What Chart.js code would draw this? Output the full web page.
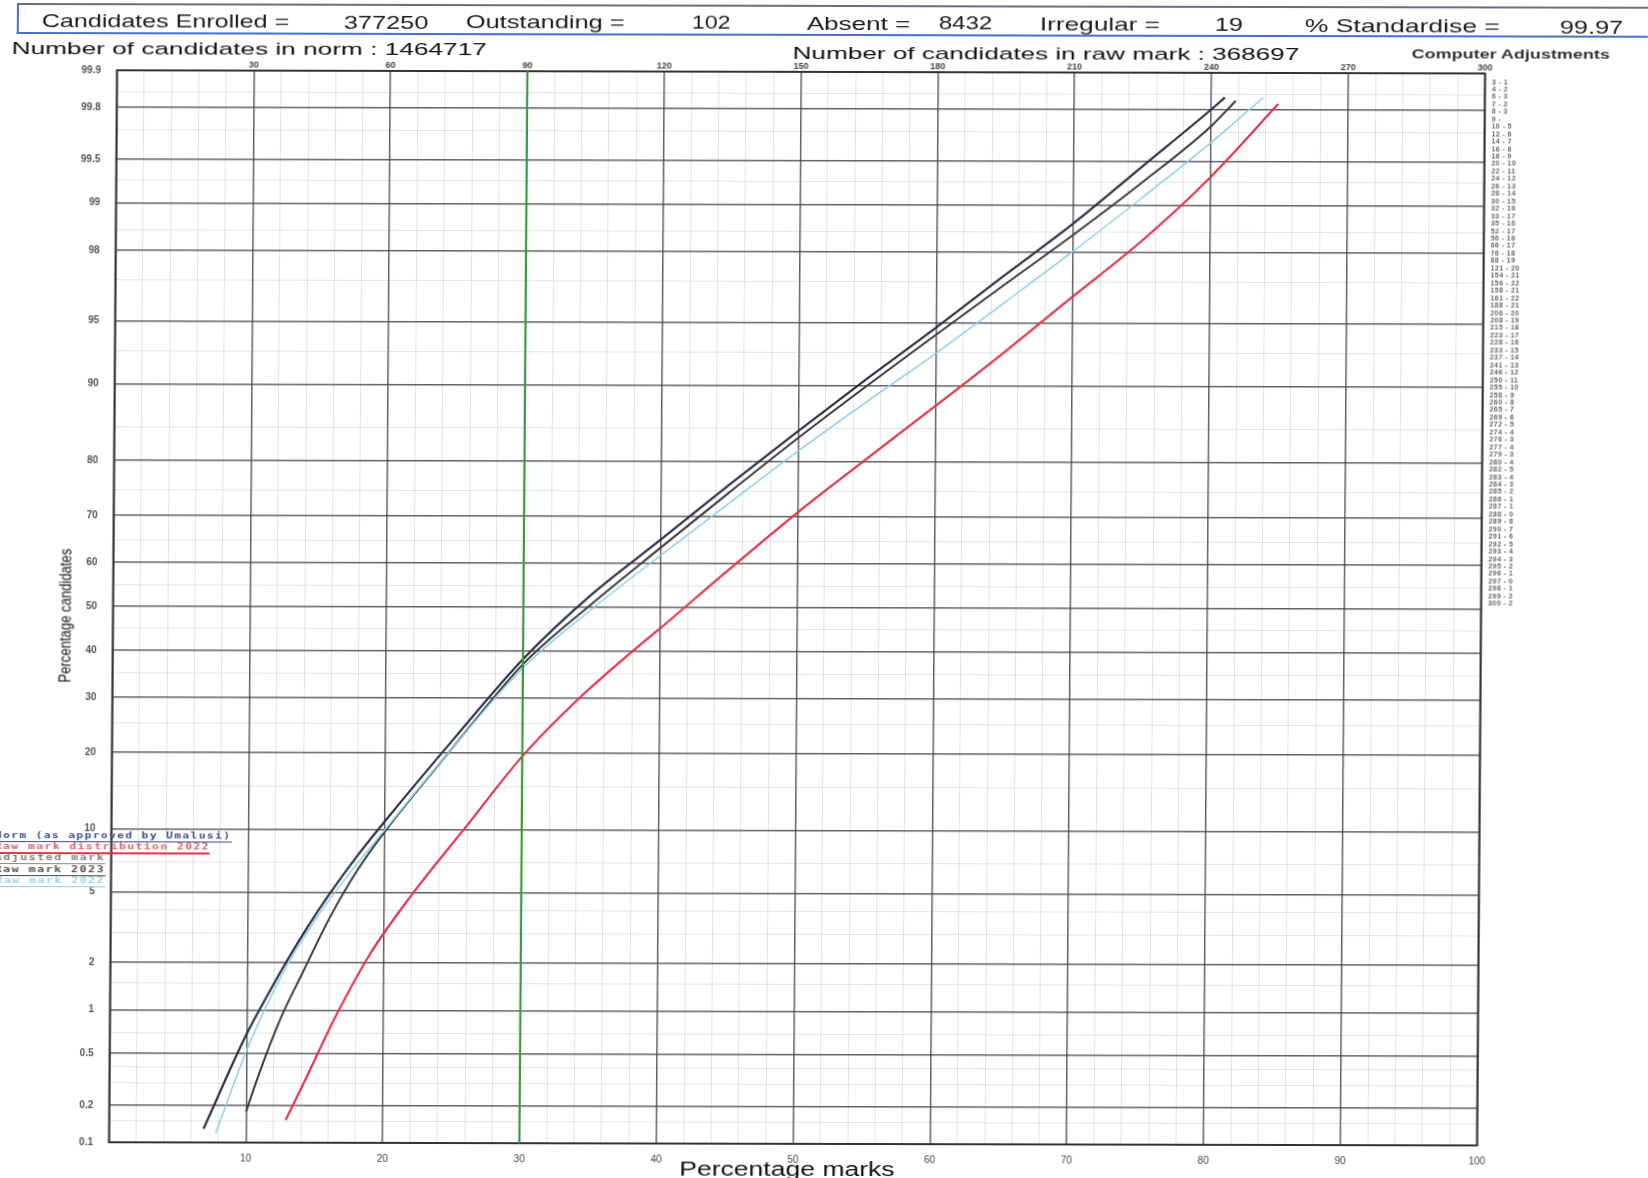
<!DOCTYPE html>
<html>
<head>
<meta charset="utf-8">
<script src="https://cdn.jsdelivr.net/npm/chart.js@4.4.1/dist/chart.umd.min.js"></script>
<style>
html, body { margin: 0; padding: 0; background: #fff; }
#page { position: relative; width: 1648px; height: 1178px; overflow: hidden; background: #fff;
  transform-origin: 0 0; transform: matrix(1, 0.00234, -0.00746, 1, 0, 0); }
#chart { position: absolute; left: 0; top: 0; }
.t { position: absolute; white-space: nowrap; line-height: 1; color: #1c1c1c;
  font-family: "Liberation Sans", Arial, sans-serif; transform-origin: 0 50%; }
#hdr { position: absolute; left: 17px; top: 3px; width: 1660px; height: 27px;
  border-top: 2px solid #6b7080; border-left: 2px solid #4a6fd0; border-bottom: 2px solid #4a6fd0; }
#adj { position: absolute; font: bold 7px "Liberation Sans", Arial, sans-serif; color: #666; letter-spacing: 0.4px; }
</style>
</head>
<body>
<div id="page">
  <div id="hdr"></div>
  <canvas id="chart" width="1648" height="1178"></canvas>
</div>
<script>
// x = percentage marks, y = percentage candidates (cumulative)
const NORM_MARKS = [6.9, 10, 11.5, 13, 14.5, 16, 18, 20, 25, 30, 35, 40, 45, 50, 55, 60, 65, 70, 75, 80, 81];
const NORM_PCT   = [0.13, 0.685, 1.25, 2.12, 3.33, 4.90, 7.57, 10.84, 22.4, 38.2, 53.0, 65.2, 76.1, 84.6, 90.7, 94.7, 97.26, 98.68, 99.46, 99.80, 99.84];

const RAW23_MARKS = [10, 11, 12.5, 14, 16, 18, 20, 24.6, 30, 35, 40, 45, 50, 55, 60, 65, 70, 75, 80, 81.8];
const RAW23_PCT   = [0.18, 0.37, 0.89, 1.70, 3.63, 6.43, 9.77, 20.0, 37.1, 50.8, 63.5, 74.7, 83.65, 90.0, 94.24, 96.9, 98.44, 99.30, 99.73, 99.83];

const BLUE_MARKS = [7.8, 10, 12.5, 15, 17.5, 20, 24.4, 30, 35, 40, 45, 50, 55, 60, 65, 70, 75, 80, 83.8];
const BLUE_PCT   = [0.12, 0.52, 1.66, 3.59, 6.30, 9.94, 19.5, 36.3, 49.6, 61.8, 72.7, 81.7, 88.3, 92.9, 96.1, 98.03, 99.11, 99.64, 99.84];

const RED_MARKS = [12.9, 14.5, 16.5, 19, 22, 26, 30, 34, 38, 40, 45, 50, 55, 60, 65, 70, 75, 80, 84.9];
const RED_PCT   = [0.154, 0.35, 0.91, 2.28, 4.85, 10.4, 19.5, 29.7, 40.05, 45.2, 58.7, 70.9, 80.5, 87.8, 93.0, 96.4, 98.3, 99.36, 99.82];

const CUT_MARK = 30;

const Y_TICKS = [0.1, 0.2, 0.5, 1, 2, 5, 10, 20, 30, 40, 50, 60, 70, 80, 90, 95, 98, 99, 99.5, 99.8, 99.9];
const Y_MINOR = [0.15, 0.3, 0.4, 0.7, 1.5, 3, 4, 7, 15, 25, 35, 45, 55, 65, 75, 85, 93, 97, 98.5, 99.3, 99.7, 99.85];
const X_TICKS = [10, 20, 30, 40, 50, 60, 70, 80, 90, 100];
const RAW_TICKS = [30, 60, 90, 120, 150, 180, 210, 240, 270, 300];

const HEADER = [
  ["Candidates Enrolled =", 42, 290, 21], ["377250", 344, 428, 22],
  ["Outstanding =", 466, 625, 22], ["102", 692, 731, 22.5],
  ["Absent =", 807, 911, 23], ["8432", 939, 992, 23],
  ["Irregular =", 1040, 1160, 24], ["19", 1215, 1243, 24.5],
  ["% Standardise =", 1305, 1500, 25.5], ["99.97", 1560, 1624, 27]
];

const LEGEND = [
  ["Norm (as approved by Umalusi)", "#3b4a9a", "#3b4a9a"],
  ["Raw mark distribution 2022", "#e06070", "#e0304a"],
  ["Adjusted mark", "#808080", "#888"],
  ["Raw mark 2023", "#505050", "#444"],
  ["Raw mark 2022", "#9fd3e6", "#8fcfe6"]
];

const ADJUSTMENTS = ["3 - 1","4 - 2","6 - 3","7 - 2","8 - 3","9 -","10 - 5","12 - 6","14 - 7","16 - 8","18 - 9",
  "20 - 10","22 - 11","24 - 12","26 - 13","28 - 14","30 - 15","32 - 16","33 - 17","35 - 16","52 - 17","56 - 16",
  "66 - 17","76 - 18","88 - 19","121 - 20","154 - 21","156 - 22","158 - 21","161 - 22","188 - 21","206 - 20",
  "208 - 19","215 - 18","223 - 17","228 - 16","233 - 15","237 - 14","241 - 13","246 - 12","250 - 11","255 - 10",
  "258 - 9","260 - 8","265 - 7","269 - 6","272 - 5","274 - 4","276 - 3","277 - 4","279 - 3","280 - 4","282 - 5",
  "283 - 4","284 - 3","285 - 2","286 - 1","287 - 1","288 - 0","289 - 8","290 - 7","291 - 6","292 - 5","293 - 4",
  "294 - 3","295 - 2","296 - 1","297 - 0","298 - 1","299 - 2","300 - 2"];

// normal probability paper
function probit(p) {
  p = Math.min(Math.max(p, 1e-7), 1 - 1e-7);
  const a = [-39.69683028665376, 220.9460984245205, -275.9285104469687, 138.3577518672690, -30.66479806614716, 2.506628277459239];
  const b = [-54.47609879822406, 161.5858368580409, -155.6989798598866, 66.80131188771972, -13.28068155288572];
  const c = [-0.007784894002430293, -0.3223964580411365, -2.400758277161838, -2.549732539343734, 4.374664141464968, 2.938163982698783];
  const d = [0.007784695709041462, 0.3224671290700398, 2.445134137142996, 3.754408661907416];
  const lo = 0.02425;
  if (p < lo || p > 1 - lo) {
    const q = Math.sqrt(-2 * Math.log(p < lo ? p : 1 - p));
    const z = (((((c[0]*q+c[1])*q+c[2])*q+c[3])*q+c[4])*q+c[5]) / ((((d[0]*q+d[1])*q+d[2])*q+d[3])*q+1);
    return p < lo ? z : -z;
  }
  const q = p - 0.5, r = q * q;
  return (((((a[0]*r+a[1])*r+a[2])*r+a[3])*r+a[4])*r+a[5])*q / (((((b[0]*r+b[1])*r+b[2])*r+b[3])*r+b[4])*r+1);
}
function normCdf(z) {
  const t = 1 / (1 + 0.3275911 * Math.abs(z) / Math.SQRT2);
  const y = 1 - (((((1.061405429*t - 1.453152027)*t) + 1.421413741)*t - 0.284496736)*t + 0.254829592)*t * Math.exp(-z*z/2);
  return z >= 0 ? (1 + y) / 2 : (1 - y) / 2;
}

class ProbitScale extends Chart.LinearScale {
  static id = 'probit';
  determineDataLimits() { this.min = this.options.min; this.max = this.options.max; }
  buildTicks() {
    const t = Y_TICKS.map(v => ({ value: v, major: true })).concat(Y_MINOR.map(v => ({ value: v, major: false })));
    return t.sort((p, q) => p.value - q.value);
  }
  configure() {
    super.configure();
    this._zMin = probit(this.min / 100);
    this._zMax = probit(this.max / 100);
  }
  getPixelForValue(v) { return this.getPixelForDecimal((probit(v / 100) - this._zMin) / (this._zMax - this._zMin)); }
  getValueForPixel(px) { return 100 * normCdf(this._zMin + this.getDecimalForPixel(px) * (this._zMax - this._zMin)); }
}
Chart.register(ProbitScale);

const MAJOR = "rgba(70,70,70,0.85)", MINOR = "rgba(130,130,130,0.28)";
const pts = (xs, ys) => xs.map((x, i) => ({ x, y: ys[i] }));
const line = (data, color, w) => ({ data, borderColor: color, borderWidth: w, pointRadius: 0,
  cubicInterpolationMode: 'monotone', fill: false, xAxisID: 'x', yAxisID: 'y' });

const frame = {
  id: 'frame',
  beforeDatasetsDraw(c) {
    const a = c.chartArea, ctx = c.ctx;
    ctx.save(); ctx.strokeStyle = "#333"; ctx.lineWidth = 2;
    ctx.strokeRect(a.left, a.top, a.right - a.left, a.bottom - a.top);
    ctx.restore();
  }
};

new Chart(document.getElementById("chart"), {
  type: 'line',
  data: {
    datasets: [
      line([{ x: CUT_MARK, y: 0.1 }, { x: CUT_MARK, y: 99.9 }], "#3a9a40", 2.2),
      line(pts(RED_MARKS, RED_PCT), "#e3334a", 2.2),
      line(pts(BLUE_MARKS, BLUE_PCT), "#8ccfe6", 1.5),
      line(pts(RAW23_MARKS, RAW23_PCT), "#3a3a3a", 2),
      line(pts(NORM_MARKS, NORM_PCT), "#2a3148", 2.2)
    ]
  },
  options: {
    responsive: false, animation: false,
    layout: { padding: { left: 77.5, top: 54, right: 162.5, bottom: 6 } },
    plugins: { legend: { display: false }, tooltip: { enabled: false } },
    scales: {
      x: {
        type: 'linear', min: 0, max: 100, position: 'bottom',
        afterFit: s => { s.height = 30; },
        afterBuildTicks: s => { s.ticks = Array.from({ length: 51 }, (_, i) => ({ value: i * 2 })); },
        ticks: { autoSkip: false, maxRotation: 0, padding: 10, color: "#444",
          font: { family: "Liberation Sans", size: 10 },
          callback: v => X_TICKS.includes(v) ? String(v) : '' },
        grid: { drawTicks: false, color: ctx => ctx.tick && ctx.tick.value % 10 === 0 ? MAJOR : MINOR,
          lineWidth: ctx => ctx.tick && ctx.tick.value % 10 === 0 ? 1.5 : 0.8 },
        border: { display: false }
      },
      x2: {
        type: 'linear', min: 0, max: 300, position: 'top',
        afterFit: s => { s.height = 16; },
        afterBuildTicks: s => { s.ticks = RAW_TICKS.map(v => ({ value: v })); },
        ticks: { autoSkip: false, maxRotation: 0, padding: 0, color: "#444",
          font: { family: "Liberation Sans", size: 9, weight: 'bold' } },
        grid: { drawOnChartArea: false, drawTicks: false },
        border: { display: false }
      },
      y: {
        type: 'probit', min: 0.1, max: 99.9, position: 'left',
        afterFit: s => { s.width = 40; },
        ticks: { autoSkip: false, padding: 16, color: "#555",
          font: { family: "Liberation Sans", size: 10, weight: 'bold' },
          callback: v => Y_TICKS.includes(v) ? String(v) : '' },
        grid: { drawTicks: false, color: ctx => ctx.tick && ctx.tick.major ? MAJOR : MINOR,
          lineWidth: ctx => ctx.tick && ctx.tick.major ? 1.5 : 0.8 },
        border: { display: false }
      }
    }
  },
  plugins: [frame]
});

// page texts, positions given in the scanned picture's coordinates
const page = document.getElementById("page");
const inv = (x, y) => [x + 0.00746 * y, y - 0.00234 * x];
function put(txt, x1, x2, yc, size, css) {
  const d = document.createElement("div");
  d.className = "t";
  d.textContent = txt;
  d.style.fontSize = size + "px";
  Object.assign(d.style, css || {});
  page.appendChild(d);
  const [px, py] = inv(x1, yc);
  d.style.left = px + "px";
  d.style.top = (py - d.offsetHeight / 2) + "px";
  d.style.transform = "scaleX(" + ((x2 - x1) / d.offsetWidth) + ")";
  return d;
}

HEADER.forEach(h => put(h[0], h[1], h[2], h[3], 19));
put("Number of candidates in norm : 1464717", 12, 487, 49, 17, { color: "#111" });
put("Number of candidates in raw mark : 368697", 793, 1300, 53, 17, { color: "#111" });
put("Computer Adjustments", 1412, 1610, 54, 12, { fontWeight: "bold", color: "#333" });
put("Percentage marks", 679, 894, 1169, 20, { color: "#111" });

const yt = document.createElement("div");
yt.className = "t";
yt.textContent = "Percentage candidates";
yt.style.fontSize = "17px";
yt.style.color = "#111";
page.appendChild(yt);
{
  const [cx, cy] = inv(65, 616);
  yt.style.left = (cx - yt.offsetWidth / 2) + "px";
  yt.style.top = (cy - yt.offsetHeight / 2) + "px";
  yt.style.transformOrigin = "50% 50%";
  yt.style.transform = "rotate(-90deg) scaleX(" + (134 / yt.offsetWidth) + ")";
}

const LEG_RIGHT = [232, 210, 106, 106, 105];
LEGEND.forEach((l, i) => {
  put(l[0], -5, LEG_RIGHT[i], 837 + i * 11.2, 8, {
    fontFamily: "DejaVu Sans Mono", fontWeight: "bold", letterSpacing: "1px",
    color: l[1], borderBottom: (i === 1 ? 2 : 1.3) + "px solid " + l[2], paddingBottom: "1px"
  });
});

const adj = document.createElement("div");
adj.id = "adj";
const [ax, ay] = inv(1492, 78);
adj.style.left = ax + "px";
adj.style.top = ay + "px";
adj.style.lineHeight = (529 / ADJUSTMENTS.length) + "px";
adj.innerHTML = ADJUSTMENTS.join("<br>");
page.appendChild(adj);
</script>
</body>
</html>
